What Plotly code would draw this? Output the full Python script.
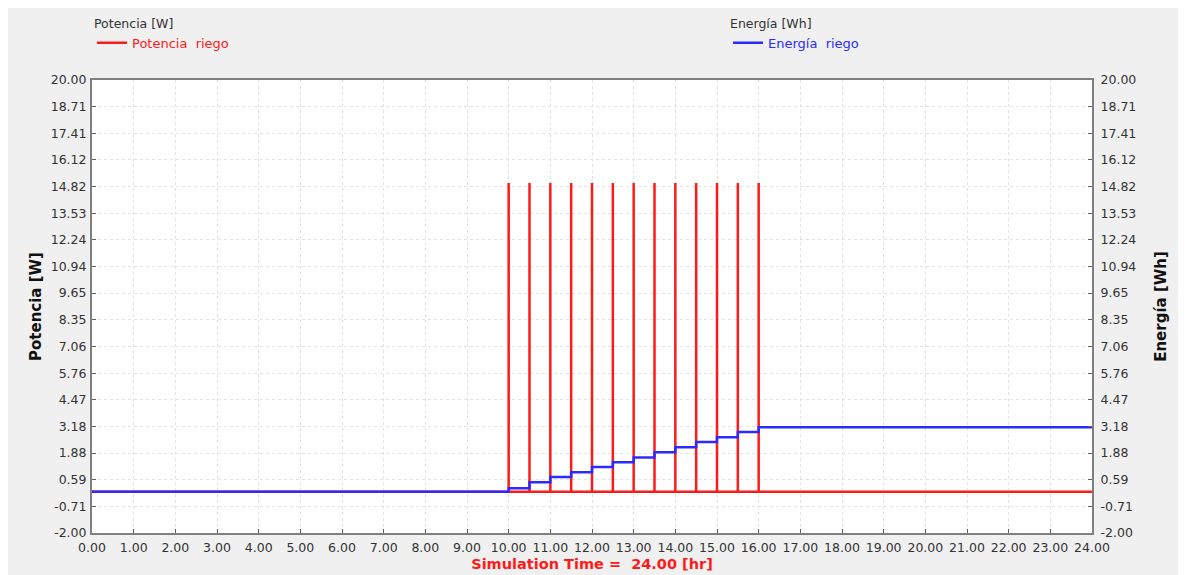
import plotly.graph_objects as go

# ---- data ----
spike_times = [10.0, 10.5, 11.0, 11.5, 12.0, 12.5, 13.0, 13.5, 14.0, 14.5, 15.0, 15.5, 16.0]
spike_power = [15.0] * 13
energy_levels = [0.17, 0.46, 0.72, 0.95, 1.20, 1.43, 1.67, 1.92, 2.16, 2.42, 2.65, 2.90, 3.13]
t_start, t_end = 0.0, 24.0
y_tick_labels = ["-2.00", "-0.71", "0.59", "1.88", "3.18", "4.47", "5.76", "7.06", "8.35",
                 "9.65", "10.94", "12.24", "13.53", "14.82", "16.12", "17.41", "18.71", "20.00"]
x_tick_labels = ["%.2f" % v for v in range(25)]

# ---- build step series ----
px, py = [t_start], [0.0]
for t, p in zip(spike_times, spike_power):
    px += [t, t, t]
    py += [0.0, p, 0.0]
px.append(t_end); py.append(0.0)

ex, ey = [t_start], [0.0]
prev = 0.0
for t, e in zip(spike_times, energy_levels):
    ex += [t, t]
    ey += [prev, e]
    prev = e
ex.append(t_end); ey.append(prev)

y_tick_vals = [float(s) for s in y_tick_labels]

font_family = "DejaVu Sans, Verdana, sans-serif"
tick_font = dict(family=font_family, size=12.5, color="#333333")
title_font = dict(family=font_family, size=15, color="#111111")
fig = go.Figure()
fig.add_trace(go.Scatter(x=px, y=py, mode="lines", name="Potencia  riego",
                         line=dict(color="#ff1a1a", width=2.5), legend="legend"))
fig.add_trace(go.Scatter(x=ex, y=ey, mode="lines", name="Energía  riego", yaxis="y2",
                         line=dict(color="#2b2bff", width=2.5), legend="legend2"))

axis_common = dict(showline=True, linecolor="#808080", linewidth=2,
                   showgrid=True, gridcolor="#e2e2e2", griddash="dot", gridwidth=1,
                   ticks="inside", ticklen=4, tickcolor="#606060",
                   tickfont=tick_font, zeroline=False)

fig.update_layout(
    width=1186, height=575,
    paper_bgcolor="#f0f0f0", plot_bgcolor="#ffffff",
    margin=dict(l=84, r=102, t=72, b=50),
    font=dict(family=font_family, color="#333333"),
    xaxis=dict(range=[t_start, t_end], tickmode="array", tickvals=list(range(25)),
               ticktext=x_tick_labels, mirror=True, ticklabelstandoff=2,
               title=dict(text="<b>Simulation Time =  24.00 [hr]</b>", standoff=5,
                          font=dict(family=font_family, size=14.5, color="#ff1a1a")),
               **axis_common),
    yaxis=dict(range=[-2, 20], tickmode="array", tickvals=y_tick_vals, ticktext=y_tick_labels,
               mirror=True, ticklabelstandoff=1,
               title=dict(text="<b>Potencia [W]</b>", standoff=5, font=title_font),
               **axis_common),
    yaxis2=dict(range=[-2, 20], tickmode="array", tickvals=y_tick_vals, ticktext=y_tick_labels,
                overlaying="y", side="right", ticklabelstandoff=4,
                title=dict(text="<b>Energía [Wh]</b>", standoff=20, font=title_font),
                **{**axis_common, "showgrid": False}),
    legend=dict(x=0.0, y=0.994, xref="paper", yref="container", xanchor="left", yanchor="top",
                bgcolor="rgba(0,0,0,0)", itemwidth=30,
                title=dict(text="Potencia [W]", font=dict(family=font_family, size=12.5, color="#333333")),
                font=dict(family=font_family, size=13, color="#ff1a1a")),
    legend2=dict(x=0.636, y=0.994, xref="paper", yref="container", xanchor="left", yanchor="top",
                 bgcolor="rgba(0,0,0,0)", itemwidth=30,
                 title=dict(text="Energía [Wh]", font=dict(family=font_family, size=12.5, color="#333333")),
                 font=dict(family=font_family, size=13, color="#2b2bff")),
    showlegend=True,
)

fig.write_html("out.html")
